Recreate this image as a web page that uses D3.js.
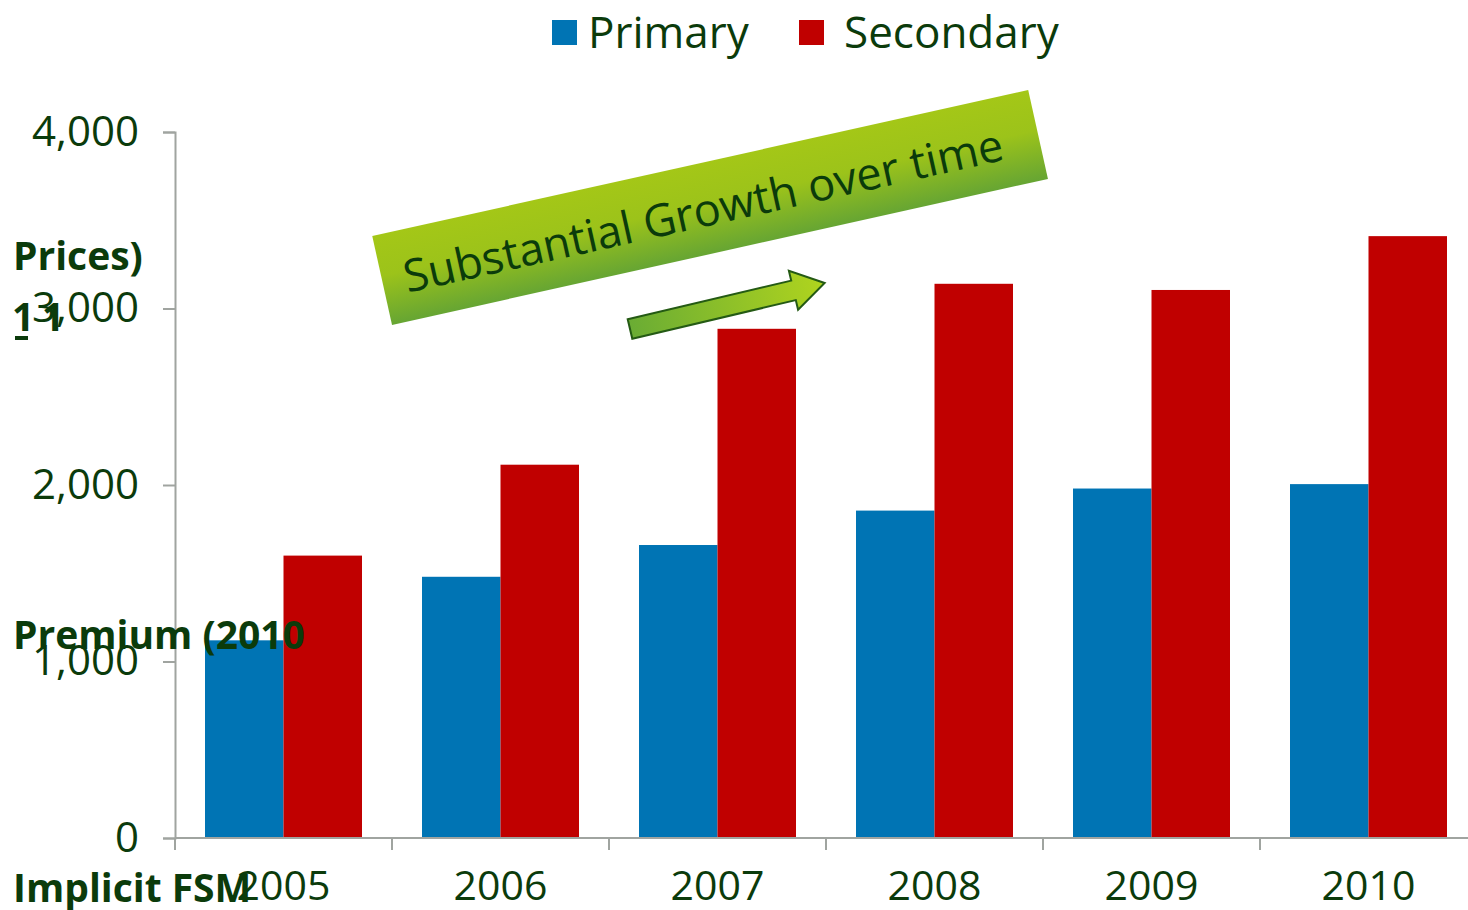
<!DOCTYPE html>
<html>
<head>
<meta charset="utf-8">
<script src="https://cdn.jsdelivr.net/npm/d3@7"></script>
<style>
	body { margin: 0; background: #fff; }
	svg { display: block; font-family: "Open Sans", sans-serif; }
</style>
</head>
<body>
<svg id="chart" width="1468" height="910"></svg>
<script>
(function(){

	// data
	var years = ["2005", "2006", "2007", "2008", "2009", "2010"];
	var seriesNames = ["Primary", "Secondary"];
	var primary = [1120, 1480, 1660, 1855, 1980, 2005];
	var secondary = [1600, 2115, 2885, 3140, 3105, 3410];
	var yTicks = [0, 1000, 2000, 3000, 4000];

	// look
	var colors = ["#0074b4", "#c00000"];
	var textColor = "#0b3b0b";
	var axisColor = "#a0a4a0";

	var svg = d3.select("#chart");

	var x = d3.scaleBand().domain(years).range([175, 1477]).paddingInner(0).paddingOuter(0);
	var xs = d3.scaleBand().domain(seriesNames).range([30, x.bandwidth() - 30]);
	var y = d3.scaleLinear().domain([0, 4000]).range([838, 132]);

	var table = years.map(function(yr, i){
		return {year: yr, values: [primary[i], secondary[i]]};
	});

	// bars
	var groups = svg.append("g").selectAll("g")
		.data(table)
		.enter()
		.append("g")
		.attr("transform", function(d){ return "translate(" + x(d.year) + ",0)"; });

	groups.selectAll("rect")
		.data(function(d){
			return d.values.map(function(v, k){ return {name: seriesNames[k], value: v, k: k}; });
		})
		.enter()
		.append("rect")
		.attr("x", function(d){ return xs(d.name); })
		.attr("width", xs.bandwidth())
		.attr("y", function(d){ return y(d.value); })
		.attr("height", function(d){ return y(0) - y(d.value); })
		.attr("fill", function(d){ return colors[d.k]; });

	// y axis
	var yAxis = svg.append("g")
		.attr("transform", "translate(175,0)")
		.call(d3.axisLeft(y).tickValues(yTicks).tickSize(12).tickPadding(24).tickFormat(d3.format(",")));
	yAxis.selectAll("line, path").attr("stroke", axisColor).attr("stroke-width", 2);
	yAxis.selectAll("text")
		.attr("fill", textColor)
		.attr("font-size", 42)
		.attr("font-family", "Open Sans");

	// x axis, ticks between categories
	var xAxis = svg.append("g").attr("transform", "translate(0,838)");
	xAxis.append("line")
		.attr("x1", 175).attr("x2", 1477)
		.attr("stroke", axisColor).attr("stroke-width", 2);
	xAxis.selectAll(".sep")
		.data(years.concat(["end"]))
		.enter()
		.append("line")
		.attr("x1", function(d, i){ return 175 + i * x.bandwidth(); })
		.attr("x2", function(d, i){ return 175 + i * x.bandwidth(); })
		.attr("y1", 0).attr("y2", 12)
		.attr("stroke", axisColor).attr("stroke-width", 2);
	xAxis.selectAll(".yr")
		.data(years)
		.enter()
		.append("text")
		.attr("x", function(d){ return x(d) + x.bandwidth() / 2; })
		.attr("y", 62)
		.attr("text-anchor", "middle")
		.attr("fill", textColor)
		.attr("font-size", 41)
		.text(function(d){ return d; });

	// legend
	var legend = svg.append("g");
	var legendX = [552, 799];
	var legendTextX = [588, 844];
	seriesNames.forEach(function(name, i){
		legend.append("rect")
			.attr("x", legendX[i]).attr("y", 20)
			.attr("width", 25).attr("height", 25)
			.attr("fill", colors[i]);
		legend.append("text")
			.attr("x", legendTextX[i]).attr("y", 48)
			.attr("fill", textColor)
			.attr("font-size", 44)
			.text(name);
	});

	// broken y axis title, pieces scattered like the original
	var titleBits = [
		{t: "Prices)", x: 13, y: 270},
		{t: "1", x: 12, y: 331},
		{t: "1", x: 42, y: 331},
		{t: "Premium (2010", x: 13, y: 649},
		{t: "Implicit FSM", x: 13, y: 902}
	];
	svg.append("g").selectAll("text")
		.data(titleBits)
		.enter()
		.append("text")
		.attr("x", function(d){ return d.x; })
		.attr("y", function(d){ return d.y; })
		.attr("fill", textColor)
		.attr("font-weight", 700)
		.attr("font-size", 39)
		.text(function(d){ return d.t; });
	svg.append("rect")
		.attr("x", 15).attr("y", 336).attr("width", 13).attr("height", 4)
		.attr("fill", textColor);

	// gradients
	var defs = svg.append("defs");
	var bannerGrad = defs.append("linearGradient")
		.attr("id", "bannerGrad").attr("x1", 0).attr("y1", 0).attr("x2", 0).attr("y2", 1);
	bannerGrad.append("stop").attr("offset", "0%").attr("stop-color", "#a4c717");
	bannerGrad.append("stop").attr("offset", "45%").attr("stop-color", "#9cc31a");
	bannerGrad.append("stop").attr("offset", "100%").attr("stop-color", "#66a533");

	var arrowGrad = defs.append("linearGradient")
		.attr("id", "arrowGrad").attr("x1", 0).attr("y1", 0).attr("x2", 1).attr("y2", 0);
	arrowGrad.append("stop").attr("offset", "0%").attr("stop-color", "#6aac34");
	arrowGrad.append("stop").attr("offset", "100%").attr("stop-color", "#b0d41e");

	// banner
	var banner = svg.append("g")
		.attr("transform", "translate(710,207) rotate(-12.55)");
	banner.append("rect")
		.attr("x", -336).attr("y", -45)
		.attr("width", 672).attr("height", 91)
		.attr("fill", "url(#bannerGrad)");
	banner.append("text")
		.attr("x", -314).attr("y", 18)
		.attr("fill", textColor)
		.attr("font-size", 45)
		.text("Substantial Growth over time");

	// arrow
	var arrow = svg.append("g")
		.attr("transform", "translate(630,329) rotate(-13.3)");
	arrow.append("path")
		.attr("d", "M0,-10 L168,-10 L168,-20 L200,0 L168,20 L168,10 L0,10 Z")
		.attr("fill", "url(#arrowGrad)")
		.attr("stroke", "#245a14")
		.attr("stroke-width", 2)
		.attr("stroke-linejoin", "miter");

})();
</script>
</body>
</html>
